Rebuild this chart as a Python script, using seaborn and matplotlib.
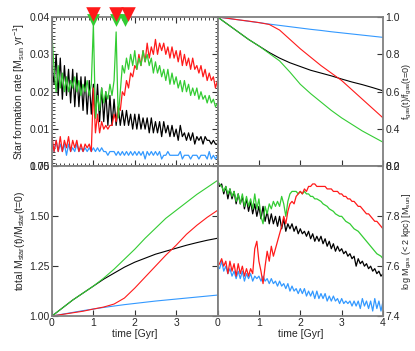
import numpy as np
import pandas as pd
import seaborn as sns
import matplotlib
matplotlib.use("Agg")
import matplotlib.pyplot as plt

sns.set_style("ticks")
plt.rcParams['font.family'] = ['Liberation Sans', 'DejaVu Sans']
plt.rcParams['mathtext.default'] = 'regular'
plt.rcParams['font.size'] = 7

# time grids
t_fine = [round(0.05 * i, 2) for i in range(81)]
t_coarse = [0.25 * i for i in range(17)]

# --- star formation rate [Msun/yr]
sfr_black = [0.027, 0.022, 0.030, 0.019, 0.029, 0.018, 0.027, 0.019, 0.026, 0.017,
             0.026, 0.016, 0.025, 0.016, 0.024, 0.015, 0.024, 0.014, 0.023, 0.014,
             0.022, 0.013, 0.022, 0.012, 0.021, 0.012, 0.020, 0.011, 0.019, 0.011,
             0.018, 0.011, 0.016, 0.011, 0.015, 0.011, 0.015, 0.011, 0.014, 0.010,
             0.014, 0.010, 0.014, 0.010, 0.013, 0.010, 0.013, 0.009, 0.013, 0.009,
             0.012, 0.009, 0.012, 0.008, 0.012, 0.009, 0.011, 0.008, 0.011, 0.008,
             0.010, 0.007, 0.011, 0.008, 0.009, 0.007, 0.009, 0.007, 0.009, 0.006,
             0.008, 0.007, 0.008, 0.006, 0.008, 0.007, 0.007, 0.006, 0.007, 0.006,
             0.006]
sfr_green = [0.035, 0.026, 0.020, 0.027, 0.021, 0.025, 0.020, 0.024, 0.020, 0.023,
             0.021, 0.024, 0.020, 0.023, 0.019, 0.022, 0.020, 0.023, 0.019, 0.022,
             0.038, 0.013, 0.019, 0.015, 0.021, 0.017, 0.020, 0.018, 0.022, 0.019,
             0.023, 0.036, 0.013, 0.020, 0.027, 0.025, 0.029, 0.026, 0.030, 0.027,
             0.031, 0.026, 0.029, 0.027, 0.031, 0.028, 0.030, 0.027, 0.029, 0.025,
             0.028, 0.025, 0.027, 0.024, 0.026, 0.023, 0.026, 0.022, 0.025, 0.022,
             0.024, 0.021, 0.023, 0.020, 0.023, 0.020, 0.022, 0.019, 0.021, 0.019,
             0.021, 0.018, 0.020, 0.018, 0.019, 0.017, 0.019, 0.017, 0.018, 0.016,
             0.017]
sfr_red = [0.008, 0.004, 0.007, 0.004, 0.008, 0.004, 0.007, 0.005, 0.008, 0.004,
           0.007, 0.005, 0.007, 0.004, 0.006, 0.004, 0.006, 0.005, 0.006, 0.004,
           0.021, 0.009, 0.014, 0.009, 0.012, 0.010, 0.011, 0.010, 0.011, 0.011,
           0.014, 0.012, 0.016, 0.015, 0.020, 0.019, 0.023, 0.021, 0.025, 0.024,
           0.027, 0.026, 0.030, 0.027, 0.031, 0.028, 0.033, 0.029, 0.032, 0.030,
           0.034, 0.030, 0.033, 0.031, 0.033, 0.030, 0.032, 0.029, 0.032, 0.029,
           0.031, 0.028, 0.031, 0.027, 0.030, 0.027, 0.029, 0.026, 0.029, 0.026,
           0.027, 0.025, 0.027, 0.024, 0.026, 0.023, 0.025, 0.023, 0.024, 0.021,
           0.023]
sfr_blue = [0.006, 0.004, 0.007, 0.004, 0.006, 0.004, 0.006, 0.003, 0.006, 0.004,
            0.005, 0.004, 0.006, 0.004, 0.005, 0.004, 0.005, 0.004, 0.005, 0.004,
            0.005, 0.004, 0.005, 0.004, 0.005, 0.004, 0.004, 0.003, 0.004, 0.004,
            0.004, 0.003, 0.004, 0.003, 0.004, 0.003, 0.004, 0.003, 0.004, 0.003,
            0.004, 0.003, 0.004, 0.003, 0.004, 0.002, 0.004, 0.003, 0.004, 0.003,
            0.004, 0.003, 0.004, 0.002, 0.003, 0.003, 0.004, 0.003, 0.003, 0.003,
            0.003, 0.003, 0.004, 0.002, 0.003, 0.003, 0.003, 0.002, 0.003, 0.003,
            0.003, 0.002, 0.003, 0.003, 0.003, 0.002, 0.004, 0.002, 0.003, 0.002,
            0.003]

# event markers at top of SFR panel
events_red = [1.0, 1.55, 1.83]
events_green = [1.0, 1.55, 1.76]

# --- gas fraction relative to t=0
fgas_blue = [1.0, 0.992, 0.985, 0.977, 0.970, 0.962, 0.955, 0.948, 0.941,
             0.934, 0.928, 0.921, 0.915, 0.909, 0.903, 0.897, 0.891]
fgas_black = [1.0, 0.96, 0.92, 0.88, 0.845, 0.81, 0.78, 0.755, 0.735,
              0.715, 0.70, 0.685, 0.668, 0.652, 0.638, 0.622, 0.605]
fgas_green = [1.0, 0.96, 0.92, 0.88, 0.845, 0.805, 0.765, 0.705, 0.64,
              0.59, 0.545, 0.50, 0.46, 0.425, 0.39, 0.36, 0.33]
fgas_red = [1.0, 0.993, 0.985, 0.978, 0.97, 0.96, 0.93, 0.88, 0.83,
            0.785, 0.74, 0.70, 0.66, 0.61, 0.56, 0.51, 0.46]

# --- stellar mass relative to t=0
mstar_green = [1.0, 1.04, 1.08, 1.115, 1.15, 1.19, 1.235, 1.285, 1.335,
               1.39, 1.44, 1.49, 1.53, 1.57, 1.61, 1.645, 1.68]
mstar_black = [1.0, 1.04, 1.08, 1.115, 1.15, 1.185, 1.215, 1.245, 1.27,
               1.29, 1.31, 1.325, 1.34, 1.355, 1.368, 1.38, 1.39]
mstar_red = [1.0, 1.008, 1.016, 1.024, 1.035, 1.045, 1.06, 1.09, 1.14,
             1.195, 1.25, 1.305, 1.355, 1.41, 1.455, 1.495, 1.53]
mstar_blue = [1.0, 1.009, 1.018, 1.027, 1.035, 1.043, 1.05, 1.057, 1.063,
              1.069, 1.075, 1.08, 1.085, 1.09, 1.095, 1.10, 1.105]

# --- log central gas mass
mgas_black = [7.94, 7.92, 7.93, 7.89, 7.92, 7.87, 7.91, 7.87, 7.90, 7.85,
              7.89, 7.85, 7.88, 7.83, 7.87, 7.82, 7.86, 7.81, 7.85, 7.80,
              7.84, 7.79, 7.84, 7.78, 7.82, 7.77, 7.81, 7.77, 7.80, 7.76,
              7.80, 7.75, 7.79, 7.74, 7.77, 7.75, 7.77, 7.74, 7.76, 7.73,
              7.75, 7.73, 7.74, 7.72, 7.74, 7.71, 7.73, 7.70, 7.72, 7.70,
              7.72, 7.69, 7.71, 7.68, 7.70, 7.67, 7.69, 7.66, 7.68, 7.66,
              7.67, 7.65, 7.66, 7.64, 7.65, 7.63, 7.64, 7.60, 7.63, 7.61,
              7.62, 7.60, 7.61, 7.59, 7.60, 7.58, 7.59, 7.57, 7.58, 7.56,
              7.57]
mgas_green = [7.94, 7.93, 7.92, 7.90, 7.92, 7.89, 7.91, 7.88, 7.90, 7.86,
              7.89, 7.85, 7.89, 7.84, 7.88, 7.84, 7.87, 7.83, 7.89, 7.83,
              7.87, 7.80, 7.77, 7.84, 7.81, 7.85, 7.83, 7.86, 7.84, 7.86,
              7.84, 7.88, 7.85, 7.80, 7.86, 7.89, 7.90, 7.90, 7.90, 7.89,
              7.90, 7.89, 7.90, 7.89, 7.89, 7.88, 7.88, 7.87, 7.87, 7.865,
              7.86, 7.85, 7.845, 7.84, 7.83, 7.825, 7.82, 7.81, 7.805, 7.80,
              7.80, 7.79, 7.78, 7.775, 7.77, 7.76, 7.75, 7.745, 7.74, 7.73,
              7.72, 7.71, 7.70, 7.69, 7.68, 7.67, 7.66, 7.65, 7.645, 7.64,
              7.63]
mgas_red = [7.60, 7.61, 7.63, 7.60, 7.62, 7.57, 7.62, 7.58, 7.61, 7.56,
            7.61, 7.57, 7.60, 7.56, 7.59, 7.56, 7.59, 7.57, 7.67, 7.70,
            7.62, 7.58, 7.53, 7.60, 7.66, 7.62, 7.68, 7.64, 7.67, 7.70,
            7.73, 7.76, 7.80, 7.77, 7.82, 7.85, 7.86, 7.85, 7.88, 7.89,
            7.90, 7.89, 7.91, 7.90, 7.92, 7.92, 7.93, 7.93, 7.92, 7.92,
            7.92, 7.92, 7.92, 7.91, 7.91, 7.91, 7.90, 7.90, 7.90, 7.89,
            7.89, 7.88, 7.88, 7.87, 7.87, 7.86, 7.86, 7.85, 7.84, 7.84,
            7.83, 7.82, 7.81, 7.81, 7.80, 7.79, 7.78, 7.78, 7.77, 7.76,
            7.75]
mgas_blue = [7.60, 7.59, 7.62, 7.58, 7.60, 7.57, 7.59, 7.56, 7.58, 7.55,
             7.58, 7.55, 7.58, 7.54, 7.57, 7.55, 7.57, 7.54, 7.56, 7.55,
             7.56, 7.54, 7.56, 7.54, 7.55, 7.53, 7.55, 7.53, 7.54, 7.52,
             7.54, 7.52, 7.53, 7.51, 7.53, 7.50, 7.52, 7.50, 7.51, 7.49,
             7.51, 7.49, 7.51, 7.48, 7.50, 7.48, 7.50, 7.47, 7.50, 7.47,
             7.49, 7.47, 7.49, 7.46, 7.48, 7.46, 7.48, 7.46, 7.47, 7.45,
             7.47, 7.45, 7.46, 7.45, 7.46, 7.44, 7.46, 7.44, 7.46, 7.43,
             7.47, 7.44, 7.46, 7.43, 7.46, 7.42, 7.47, 7.43, 7.46, 7.42,
             7.46]

BLACK, RED, GREEN, BLUE = "black", "#ff1a1a", "#33cc33", "#3399ff"
SPINE = "#808080"

fig, axes = plt.subplots(2, 2, figsize=(4.15, 3.51), dpi=100)
plt.subplots_adjust(left=0.1253, right=0.923, top=0.9516, bottom=0.0997,
                    hspace=0, wspace=0)
ax_sfr, ax_fg = axes[0]
ax_ms, ax_mg = axes[1]

lw = 0.9
for vals, c in [(sfr_blue, BLUE), (sfr_black, BLACK), (sfr_red, RED), (sfr_green, GREEN)]:
    sns.lineplot(x=t_fine, y=vals, color=c, lw=lw, ax=ax_sfr)
for vals, c in [(fgas_blue, BLUE), (fgas_black, BLACK), (fgas_red, RED), (fgas_green, GREEN)]:
    sns.lineplot(x=t_coarse, y=vals, color=c, lw=0.8, ax=ax_fg)
for vals, c in [(mstar_blue, BLUE), (mstar_black, BLACK), (mstar_red, RED), (mstar_green, GREEN)]:
    sns.lineplot(x=t_coarse, y=vals, color=c, lw=0.8, ax=ax_ms)
for vals, c in [(mgas_blue, BLUE), (mgas_black, BLACK), (mgas_green, GREEN), (mgas_red, RED)]:
    sns.lineplot(x=t_fine, y=vals, color=c, lw=lw, ax=ax_mg)

# event triangles (green sits a bit lower and peeks out under the red)
ax_sfr.scatter(events_green, [0.0392] * 3, marker='v', s=85, color=GREEN,
               clip_on=False, zorder=5, linewidths=0)
ax_sfr.scatter(events_red, [0.0407] * 3, marker='v', s=110, color=RED,
               clip_on=False, zorder=6, linewidths=0)

for ax in axes.flat:
    ax.set_xlim(0, 4)
    for s in ax.spines.values():
        s.set_color(SPINE)
        s.set_linewidth(1.3)
    ax.tick_params(direction='in', length=4, width=0.8, color='#333333',
                   labelsize=7.5, pad=1.5)
    ax.set_xticks([0, 1, 2, 3, 4])

ax_sfr.set_ylim(0, 0.04)
ax_sfr.set_yticks([0, 0.01, 0.02, 0.03, 0.04])
ax_sfr.set_yticklabels(["0.00", "0.01", "0.02", "0.03", "0.04"])
ax_sfr.minorticks_on()
ax_sfr.xaxis.set_minor_locator(matplotlib.ticker.MultipleLocator(0.1))
ax_sfr.yaxis.set_minor_locator(matplotlib.ticker.MultipleLocator(0.001))
ax_sfr.tick_params(which='both', direction='in', top=True, right=True,
                   labelbottom=False)
ax_sfr.tick_params(which='minor', length=2, width=0.6)
ax_sfr.set_ylabel(r"Star formation rate [M$_{sun}$ yr$^{-1}$]", fontsize=7.5, labelpad=2)

ax_fg.set_ylim(0.2, 1.0)
ax_fg.set_yticks([0.2, 0.4, 0.6, 0.8, 1.0])
ax_fg.yaxis.tick_right()
ax_fg.yaxis.set_label_position('right')
ax_fg.tick_params(labelbottom=False, left=False)
ax_fg.set_ylabel(r"f$_{gas}$(t)/f$_{gas}$(t=0)", fontsize=6.5, labelpad=1)

ax_ms.set_ylim(1.0, 1.75)
ax_ms.set_yticks([1.0, 1.25, 1.5, 1.75])
ax_ms.set_yticklabels(["1.00", "1.25", "1.50", "1.75"])
ax_ms.set_xticklabels(["0", "1", "2", "3", ""])
ax_ms.tick_params(right=True)
ax_ms.set_xlabel("time [Gyr]", fontsize=7.5, labelpad=1)
ax_ms.set_ylabel(r"total M$_{star}$(t)/M$_{star}$(t=0)", fontsize=7.5, labelpad=2)

ax_mg.set_ylim(7.4, 8.0)
ax_mg.set_yticks([7.4, 7.6, 7.8, 8.0])
ax_mg.yaxis.tick_right()
ax_mg.yaxis.set_label_position('right')
ax_mg.tick_params(left=False)
ax_mg.set_xlabel("time [Gyr]", fontsize=7.5, labelpad=1)
ax_mg.set_ylabel(r"log M$_{gas}$ (< 2 kpc) [M$_{sun}$]", fontsize=6.5, labelpad=1)

fig.savefig("out.png", dpi=100)
